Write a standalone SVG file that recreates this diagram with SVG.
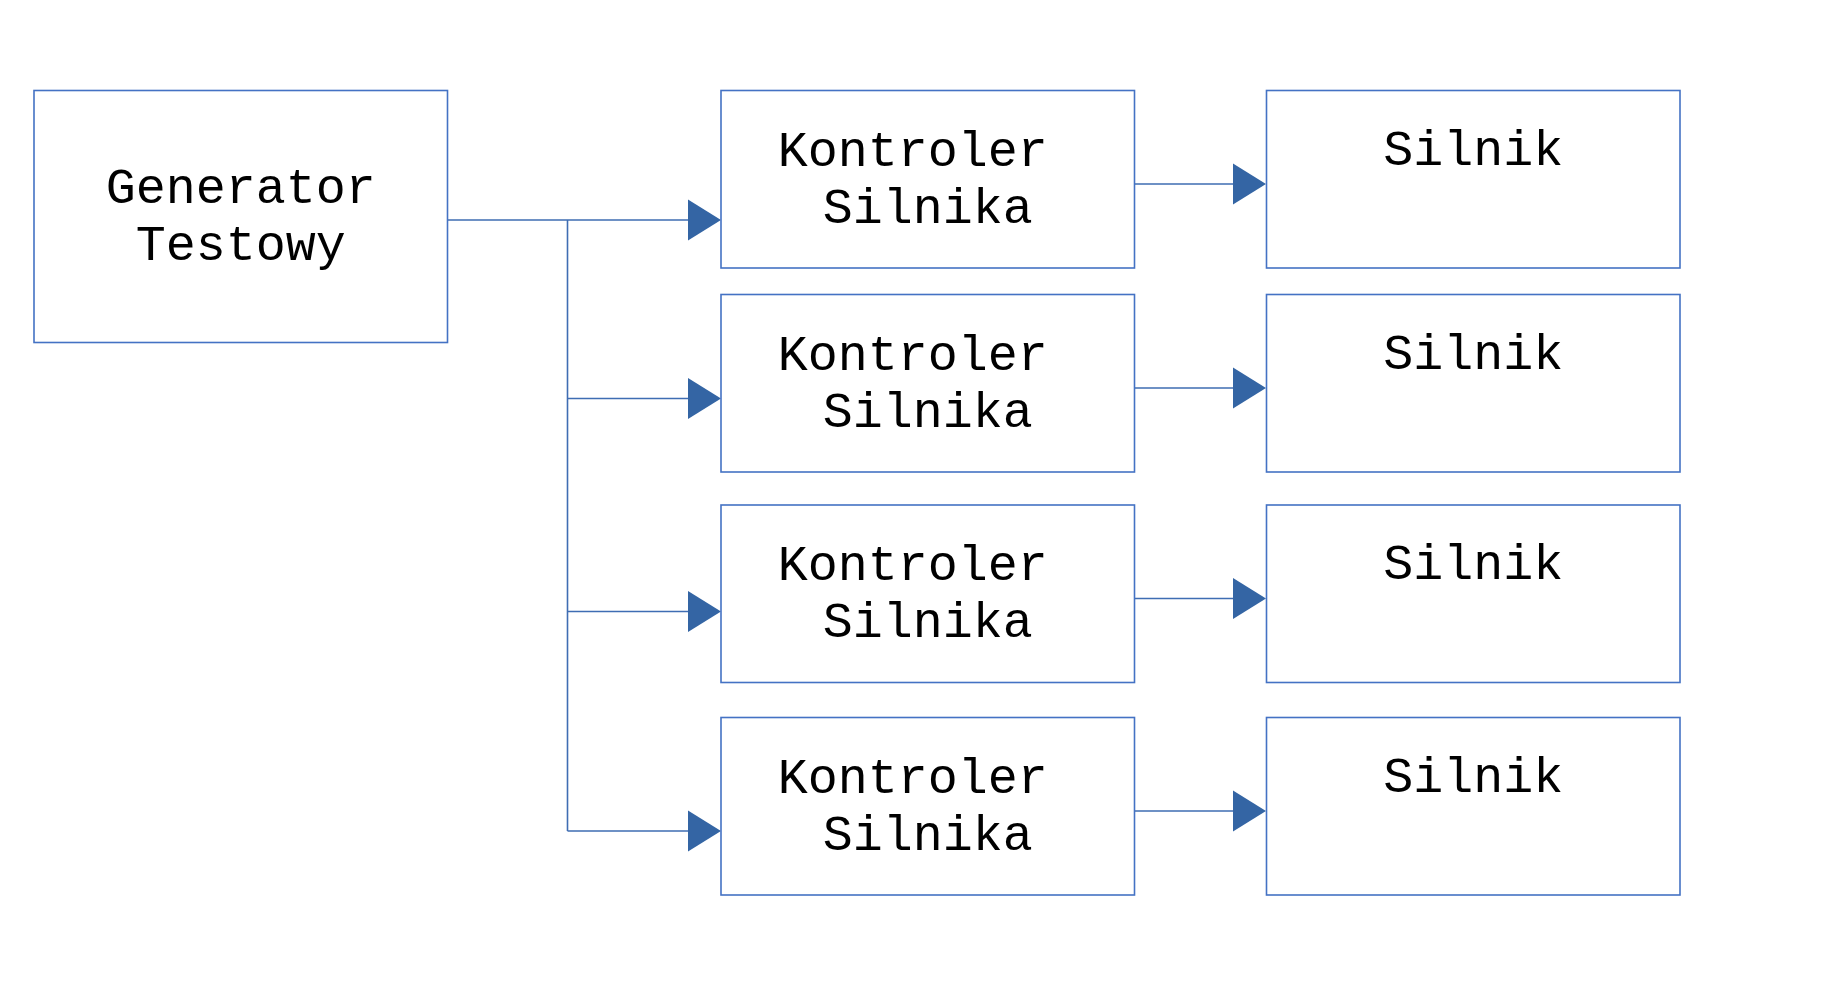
<svg xmlns="http://www.w3.org/2000/svg" width="1832" height="996" viewBox="0 0 1832 996">
<style>
.box{fill:#ffffff;stroke:#4472C4;stroke-width:1.6}
.lbl{font-family:"Liberation Mono","Courier New",monospace;font-size:50px;fill:#000000;text-anchor:middle}
.ln{fill:none;stroke:#3F6DB3;stroke-width:1.6}
.ah{fill:#3465A4}
</style>
<rect width="1832" height="996" fill="#ffffff"/>
<g id="connectors">
<path class="ln" d="M448 220 H690 M567.5 220 V831 M567.5 398.5 H690 M567.5 611.5 H690 M567.5 831 H690"/>
<path class="ln" d="M1134.5 184 H1234 M1134.5 388 H1234 M1134.5 598.5 H1234 M1134.5 811 H1234"/>
<polygon class="ah" points="688,199.5 721,220 688,240.5"/>
<polygon class="ah" points="688,378 721,398.5 688,419"/>
<polygon class="ah" points="688,591 721,611.5 688,632"/>
<polygon class="ah" points="688,810.5 721,831 688,851.5"/>
<polygon class="ah" points="1233,163.5 1266,184 1233,204.5"/>
<polygon class="ah" points="1233,367.5 1266,388 1233,408.5"/>
<polygon class="ah" points="1233,578 1266,598.5 1233,619"/>
<polygon class="ah" points="1233,790.5 1266,811 1233,831.5"/>
</g>
<g id="generator">
<rect class="box" x="34" y="90.5" width="413.5" height="252"/>
<text class="lbl" x="240.7" y="202.5">Generator</text>
<text class="lbl" x="240.7" y="259.5">Testowy</text>
</g>
<g id="kontroler1">
<rect class="box" x="721" y="90.5" width="413.5" height="177.5"/>
<text class="lbl" x="912.7" y="165.5">Kontroler</text>
<text class="lbl" x="927.7" y="222.5">Silnika</text>
</g>
<g id="kontroler2">
<rect class="box" x="721" y="294.5" width="413.5" height="177.5"/>
<text class="lbl" x="912.7" y="369.5">Kontroler</text>
<text class="lbl" x="927.7" y="426.5">Silnika</text>
</g>
<g id="kontroler3">
<rect class="box" x="721" y="505" width="413.5" height="177.5"/>
<text class="lbl" x="912.7" y="580">Kontroler</text>
<text class="lbl" x="927.7" y="637">Silnika</text>
</g>
<g id="kontroler4">
<rect class="box" x="721" y="717.5" width="413.5" height="177.5"/>
<text class="lbl" x="912.7" y="792.5">Kontroler</text>
<text class="lbl" x="927.7" y="849.5">Silnika</text>
</g>
<g id="silnik1">
<rect class="box" x="1266.5" y="90.5" width="413.5" height="177.5"/>
<text class="lbl" x="1473.2" y="164.5">Silnik</text>
</g>
<g id="silnik2">
<rect class="box" x="1266.5" y="294.5" width="413.5" height="177.5"/>
<text class="lbl" x="1473.2" y="368.5">Silnik</text>
</g>
<g id="silnik3">
<rect class="box" x="1266.5" y="505" width="413.5" height="177.5"/>
<text class="lbl" x="1473.2" y="579">Silnik</text>
</g>
<g id="silnik4">
<rect class="box" x="1266.5" y="717.5" width="413.5" height="177.5"/>
<text class="lbl" x="1473.2" y="791.5">Silnik</text>
</g>
</svg>
